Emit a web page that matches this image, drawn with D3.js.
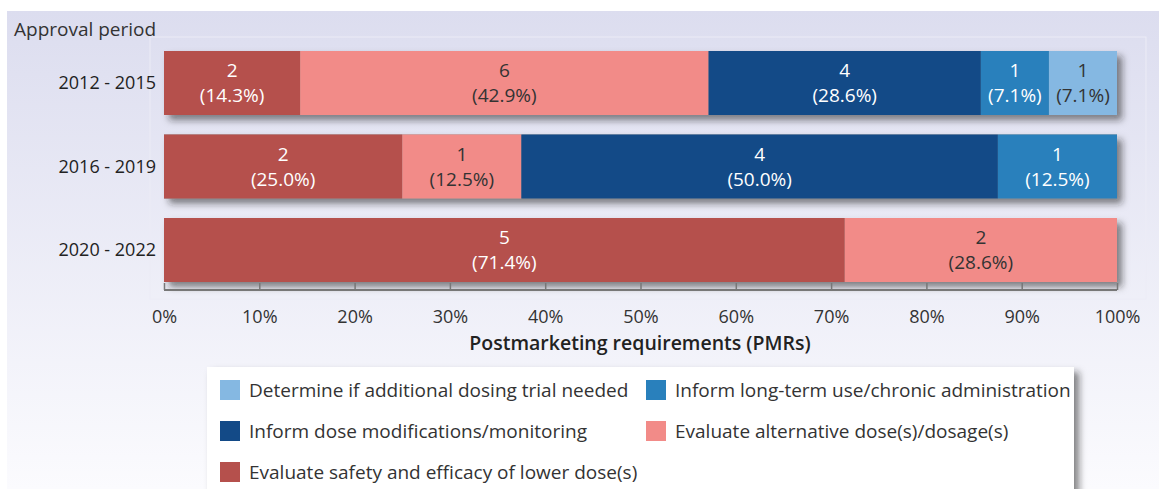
<!DOCTYPE html>
<html>
<head>
<meta charset="utf-8">
<script src="https://cdn.jsdelivr.net/npm/d3@7"></script>
<style>
  body { margin: 0; background: #fff; }
  svg text { font-family: "Open Sans", sans-serif; }
</style>
</head>
<body>
<div id="chart"></div>
<script>
  var periods = ["2012 - 2015", "2016 - 2019", "2020 - 2022"];
  var seriesNames = [
    "Evaluate safety and efficacy of lower dose(s)",
    "Evaluate alternative dose(s)/dosage(s)",
    "Inform dose modifications/monitoring",
    "Inform long-term use/chronic administration",
    "Determine if additional dosing trial needed"
  ];
  var lowerDose = [2, 2, 5];
  var altDose = [6, 1, 2];
  var doseMods = [4, 4, 0];
  var longTerm = [1, 1, 0];
  var extraTrial = [1, 0, 0];
  var seriesColors = ["#b5504c", "#f28b88", "#134a87", "#2980bc", "#85b8e2"];
  var darkText = [false, true, false, false, true];
  var tickValues = [0, 0.1, 0.2, 0.3, 0.4, 0.5, 0.6, 0.7, 0.8, 0.9, 1];
  // legend order as in the figure (two columns)
  var legendOrder = [4, 3, 2, 1, 0];

  var width = 1159;
  var height = 489;

  var svg = d3.select("#chart")
    .append("svg")
    .attr("width", width)
    .attr("height", height);

  var defs = svg.append("defs");
  var grad = defs.append("linearGradient")
    .attr("id", "bg")
    .attr("x1", 0).attr("y1", 0).attr("x2", 0).attr("y2", 1);
  grad.append("stop").attr("offset", "0%").attr("stop-color", "#dcddef");
  grad.append("stop").attr("offset", "100%").attr("stop-color", "#fbfbfe");

  var shadow = defs.append("filter")
    .attr("id", "shadow")
    .attr("x", "-5%").attr("y", "-20%")
    .attr("width", "115%").attr("height", "160%");
  shadow.append("feDropShadow")
    .attr("dx", 5).attr("dy", 5)
    .attr("stdDeviation", 3.5)
    .attr("flood-color", "#222")
    .attr("flood-opacity", 0.55);

  svg.append("rect")
    .attr("x", 7).attr("y", 11)
    .attr("width", width - 7).attr("height", height - 11)
    .attr("fill", "url(#bg)");

  // faint plot frame
  svg.append("rect")
    .attr("x", 150).attr("y", 37)
    .attr("width", 996).attr("height", 262)
    .attr("fill", "none")
    .attr("stroke", "#ececf6")
    .attr("stroke-width", 1);

  var series = [lowerDose, altDose, doseMods, longTerm, extraTrial];
  var totals = periods.map(function(p, i) {
    return d3.sum(series, function(s) { return s[i]; });
  });
  var normRows = periods.map(function(p, i) {
    var o = { period: p };
    seriesNames.forEach(function(s, k) { o[s] = series[k][i] / totals[i]; });
    return o;
  });

  var stacked = d3.stack().keys(seriesNames)(normRows);

  var x = d3.scaleLinear().domain([0, 1]).range([164, 1117]);
  var y = d3.scaleBand().domain(periods).range([51, 282]).paddingInner(0.2335).paddingOuter(0);

  var barGroup = svg.append("g");
  // shadow layer, one rect per full bar
  barGroup.selectAll(".bar-shadow")
    .data(periods)
    .enter()
    .append("rect")
    .attr("class", "bar-shadow")
    .attr("x", x(0))
    .attr("y", function(d) { return y(d); })
    .attr("width", x(1) - x(0))
    .attr("height", y.bandwidth())
    .attr("fill", "#888")
    .attr("filter", "url(#shadow)");

  var layers = barGroup.selectAll(".layer")
    .data(stacked)
    .enter()
    .append("g")
    .attr("class", "layer")
    .attr("fill", function(d, k) { return seriesColors[k]; });

  layers.selectAll("rect")
    .data(function(d) { return d; })
    .enter()
    .append("rect")
    .attr("x", function(d) { return x(d[0]); })
    .attr("y", function(d) { return y(d.data.period); })
    .attr("width", function(d) { return x(d[1]) - x(d[0]); })
    .attr("height", y.bandwidth());

  // labels
  stacked.forEach(function(layer, k) {
    layer.forEach(function(d, i) {
      var count = series[k][i];
      if (!count) return;
      var cx = (x(d[0]) + x(d[1])) / 2;
      var cy = y(d.data.period) + y.bandwidth() / 2;
      var fill = darkText[k] ? "#333" : "#fff";
      var t = svg.append("text")
        .attr("text-anchor", "middle")
        .attr("font-size", 19)
        .attr("fill", fill);
      t.append("tspan").attr("x", cx).attr("y", cy - 6).text(count);
      t.append("tspan").attr("x", cx).attr("y", cy + 19)
        .text("(" + (count / totals[i] * 100).toFixed(1) + "%)");
    });
  });

  // y labels
  svg.append("g").selectAll("text")
    .data(periods)
    .enter()
    .append("text")
    .attr("x", 156)
    .attr("y", function(d) { return y(d) + y.bandwidth() / 2 + 6; })
    .attr("text-anchor", "end")
    .attr("font-size", 18)
    .attr("fill", "#222")
    .text(function(d) { return d; });

  svg.append("text")
    .attr("x", 14).attr("y", 36)
    .attr("font-size", 19)
    .attr("fill", "#333")
    .text("Approval period");

  // x axis
  var xAxis = d3.axisTop(x)
    .tickValues(tickValues)
    .tickSize(7)
    .tickFormat(d3.format(".0%"));
  var axisG = svg.append("g")
    .attr("transform", "translate(0,290)")
    .call(xAxis);
  axisG.select(".domain").attr("stroke", "#777").attr("stroke-width", 2).attr("d", "M164,0H1117");
  axisG.selectAll(".tick line").attr("stroke", "#777").attr("stroke-width", 1.5);
  axisG.selectAll(".tick text")
    .attr("y", 33)
    .attr("font-size", 18)
    .attr("fill", "#333")
    .attr("font-family", "'Open Sans', sans-serif");

  svg.append("text")
    .attr("x", 640).attr("y", 350)
    .attr("text-anchor", "middle")
    .attr("font-size", 19.5)
    .attr("font-weight", 600)
    .attr("fill", "#222")
    .text("Postmarketing requirements (PMRs)");

  // legend
  var legend = svg.append("g");
  legend.append("rect")
    .attr("x", 207).attr("y", 367)
    .attr("width", 867).attr("height", 140)
    .attr("fill", "#fff")
    .attr("filter", "url(#shadow)");

  var items = legend.selectAll(".item")
    .data(legendOrder)
    .enter()
    .append("g")
    .attr("class", "item")
    .attr("transform", function(d, j) {
      var col = j % 2, row = Math.floor(j / 2);
      return "translate(" + (220 + col * 426) + "," + (380 + row * 41) + ")";
    });
  items.append("rect")
    .attr("width", 20).attr("height", 20)
    .attr("fill", function(k) { return seriesColors[k]; });
  items.append("text")
    .attr("x", 29).attr("y", 17)
    .attr("font-size", 19)
    .attr("fill", "#333")
    .text(function(k) { return seriesNames[k]; });
</script>
</body>
</html>
